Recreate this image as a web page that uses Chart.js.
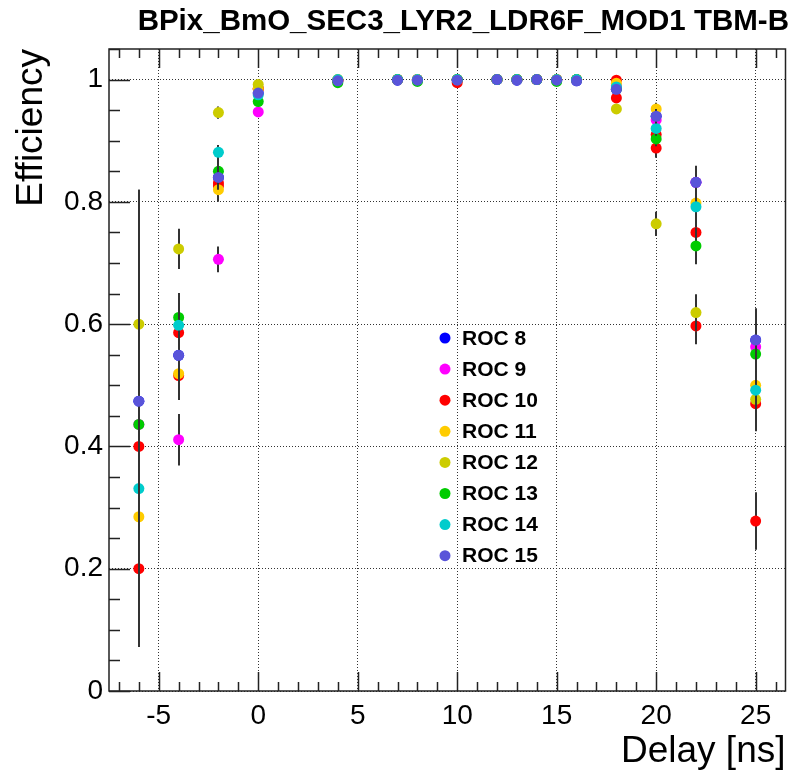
<!DOCTYPE html>
<html>
<head>
<meta charset="utf-8">
<script src="https://cdn.jsdelivr.net/npm/chart.js@4.4.0/dist/chart.umd.min.js"></script>
<style>
  html, body { margin: 0; padding: 0; background: #fff; }
</style>
</head>
<body>
<canvas id="eff" width="791" height="773"></canvas>
<script>
const delays = [-6, -4, -2, 0, 4, 7, 8, 10, 12, 13, 14, 15, 16, 18, 20, 22, 25];

const xTicks = [-5, 0, 5, 10, 15, 20, 25];
const xTickLabels = ['-5', '0', '5', '10', '15', '20', '25'];
const yTicks = [0, 0.2, 0.4, 0.6, 0.8, 1];
const yTickLabels = ['0', '0.2', '0.4', '0.6', '0.8', '1'];

const rocNames = ['ROC 8', 'ROC 9', 'ROC 10', 'ROC 11', 'ROC 12', 'ROC 13', 'ROC 14', 'ROC 15'];
const rocColors = ['#0000ff', '#ff00ff', '#ff0000', '#ffcc00', '#cccc00', '#00cc00', '#00cccc', '#5954d9'];

// efficiency per delay point
const roc8Eff  = [0.474, 0.549, 0.840, 0.978, 0.998, 0.999, 0.999, 0.999, 1.000, 0.999, 1.000, 0.999, 0.998, 0.984, 0.940, 0.832, 0.574];
const roc9Eff  = [0.436, 0.411, 0.706, 0.947, 0.999, 1.000, 1.000, 1.000, 1.000, 1.000, 1.000, 1.000, 1.000, 0.990, 0.934, 0.832, 0.563];
const roc10Eff = [0.400, 0.586, 0.831, 0.985, 0.998, 1.000, 1.000, 0.995, 1.000, 1.000, 1.000, 1.000, 1.000, 0.999, 0.910, 0.750, 0.470];
const roc10bEff= [0.200, 0.516, 0.826, 0.985, 0.998, 1.000, 1.000, 1.000, 1.000, 1.000, 1.000, 1.000, 1.000, 0.970, 0.888, 0.597, 0.278];
const roc11Eff = [0.285, 0.519, 0.820, 0.985, 1.000, 1.000, 1.000, 1.000, 1.000, 1.000, 1.000, 1.000, 1.000, 0.994, 0.952, 0.798, 0.500];
const roc12Eff = [0.600, 0.723, 0.946, 0.992, 1.000, 1.000, 1.000, 1.000, 1.000, 1.000, 1.000, 1.000, 1.000, 0.952, 0.764, 0.619, 0.477];
const roc13Eff = [0.436, 0.611, 0.850, 0.964, 0.995, 1.000, 0.997, 1.000, 1.000, 1.000, 1.000, 0.997, 1.000, 0.985, 0.903, 0.728, 0.551];
const roc14Eff = [0.331, 0.598, 0.881, 0.975, 1.000, 1.000, 1.000, 1.000, 1.000, 1.000, 1.000, 1.000, 1.000, 0.988, 0.920, 0.792, 0.492];
const roc15Eff = [0.474, 0.549, 0.840, 0.978, 0.998, 0.999, 0.999, 0.999, 1.000, 0.999, 1.000, 0.999, 0.998, 0.984, 0.940, 0.832, 0.574];

// error bars (half length)
const roc8Err  = [0.30, 0.040, 0.020, 0.006, 0.002, 0, 0, 0, 0, 0, 0, 0, 0, 0.006, 0.012, 0.025, 0.050];
const roc9Err  = [0.25, 0.042, 0.021, 0.008, 0, 0, 0, 0, 0, 0, 0, 0, 0, 0.005, 0.012, 0.025, 0.050];
const roc10Err = [0.25, 0.040, 0.020, 0.006, 0.002, 0, 0, 0.003, 0, 0, 0, 0, 0, 0.002, 0.012, 0.030, 0.045];
const roc10bErr= [0.128, 0.040, 0.020, 0.006, 0, 0, 0, 0, 0, 0, 0, 0, 0, 0.008, 0.016, 0.030, 0.047];
const roc11Err = [0.20, 0.040, 0.020, 0.005, 0, 0, 0, 0, 0, 0, 0, 0, 0, 0.003, 0.010, 0.025, 0.050];
const roc12Err = [0.22, 0.033, 0.010, 0.004, 0, 0, 0, 0, 0, 0, 0, 0, 0, 0.008, 0.020, 0.030, 0.050];
const roc13Err = [0.25, 0.040, 0.020, 0.007, 0.002, 0, 0, 0, 0, 0, 0, 0, 0, 0.006, 0.012, 0.030, 0.050];
const roc14Err = [0.20, 0.040, 0.012, 0.006, 0, 0, 0, 0, 0, 0, 0, 0, 0, 0.005, 0.012, 0.026, 0.050];
const roc15Err = [0.346, 0.040, 0.020, 0.006, 0.002, 0, 0, 0, 0, 0, 0, 0, 0, 0.006, 0.012, 0.027, 0.052];

const FONT = "'Liberation Sans', Arial, Helvetica, sans-serif";

function makeSet(label, color, eff, err, legend) {
    return {
        label: label,
        data: delays.map((d, i) => ({x: d, y: eff[i]})),
        errors: err,
        inLegend: legend,
        backgroundColor: color,
        borderWidth: 0,
        pointRadius: 5.5,
        pointHoverRadius: 5.5,
        showLine: false
    };
}

// drawing order as in the original: ROC 8 first, ROC 15 on top
const series = [
    makeSet(rocNames[0], rocColors[0], roc8Eff, roc8Err, true),
    makeSet(rocNames[1], rocColors[1], roc9Eff, roc9Err, true),
    makeSet(rocNames[2], rocColors[2], roc10bEff, roc10bErr, false),
    makeSet(rocNames[2], rocColors[2], roc10Eff, roc10Err, true),
    makeSet(rocNames[3], rocColors[3], roc11Eff, roc11Err, true),
    makeSet(rocNames[4], rocColors[4], roc12Eff, roc12Err, true),
    makeSet(rocNames[5], rocColors[5], roc13Eff, roc13Err, true),
    makeSet(rocNames[6], rocColors[6], roc14Eff, roc14Err, true),
    makeSet(rocNames[7], rocColors[7], roc15Eff, roc15Err, true)
];
series.forEach((s, i) => { s.order = series.length - i; });

const errorBars = {
    id: 'errorBars',
    beforeDatasetDraw(chart, args) {
        const ds = chart.data.datasets[args.index];
        const {ctx, chartArea, scales: {x, y}} = chart;
        ctx.save();
        ctx.beginPath();
        ctx.rect(chartArea.left, chartArea.top, chartArea.width, chartArea.height);
        ctx.clip();
        ctx.strokeStyle = '#333';
        ctx.lineWidth = 2;
        ds.data.forEach((p, i) => {
            const e = ds.errors[i];
            if (!e) return;
            const px = Math.round(x.getPixelForValue(p.x));
            ctx.beginPath();
            ctx.moveTo(px, y.getPixelForValue(p.y - e));
            ctx.lineTo(px, y.getPixelForValue(Math.min(p.y + e, 1)));
            ctx.stroke();
        });
        ctx.restore();
    }
};

// frame and inward ticks, root style
const frameTicks = {
    id: 'frameTicks',
    beforeDatasetsDraw(chart) {
        const {ctx, chartArea: a, scales: {x, y}} = chart;
        ctx.save();
        ctx.strokeStyle = '#222';
        ctx.lineWidth = 1.5;
        ctx.strokeRect(a.left, a.top, a.width, a.height);
        ctx.beginPath();
        for (let v = Math.ceil(x.min); v <= x.max; v++) {
            const px = Math.round(x.getPixelForValue(v)) + 0.5;
            const len = (v % 5 === 0) ? 19 : 9;
            ctx.moveTo(px, a.bottom); ctx.lineTo(px, a.bottom - len);
            ctx.moveTo(px, a.top); ctx.lineTo(px, a.top + len);
        }
        for (let k = 0; k * 0.05 <= y.max + 1e-9; k++) {
            const py = Math.round(y.getPixelForValue(k * 0.05)) + 0.5;
            const len = (k % 4 === 0) ? 21 : 11;
            ctx.moveTo(a.left, py); ctx.lineTo(a.left + len, py);
        }
        ctx.stroke();
        ctx.restore();
    }
};

const rocLegend = {
    id: 'rocLegend',
    afterDraw(chart) {
        const ctx = chart.ctx;
        let row = 0;
        ctx.save();
        ctx.font = 'bold 21px ' + FONT;
        ctx.textBaseline = 'middle';
        ctx.textAlign = 'left';
        chart.data.datasets.forEach(ds => {
            if (!ds.inLegend) return;
            const cy = 338 + row * 31.1;
            ctx.fillStyle = ds.backgroundColor;
            ctx.beginPath();
            ctx.arc(445, cy, 5.5, 0, Math.PI * 2);
            ctx.fill();
            ctx.fillStyle = '#000';
            ctx.fillText(ds.label, 462, cy + 1);
            row++;
        });
        ctx.restore();
    }
};

new Chart(document.getElementById('eff'), {
    type: 'scatter',
    data: { datasets: series },
    options: {
        responsive: false,
        devicePixelRatio: 1,
        animation: false,
        layout: { padding: { left: 0, right: 2, top: 0, bottom: 0 } },
        plugins: {
            legend: { display: false },
            tooltip: { enabled: false },
            title: {
                display: true,
                text: 'BPix_BmO_SEC3_LYR2_LDR6F_MOD1 TBM-B',
                align: 'end',
                color: '#000',
                font: { family: FONT, size: 29.5, weight: 'bold', lineHeight: 1 },
                padding: { top: 7, bottom: 12.5 }
            }
        },
        scales: {
            x: {
                type: 'linear',
                min: -7.5,
                max: 26.5,
                afterBuildTicks: s => { s.ticks = xTicks.map(v => ({value: v})); },
                afterFit: s => { s.height = 82; },
                ticks: {
                    color: '#000',
                    padding: 8,
                    font: { family: FONT, size: 28 },
                    callback: (v, i) => xTickLabels[i]
                },
                grid: { color: '#333', lineWidth: 1, drawTicks: false },
                border: { display: false, dash: [1, 2] },
                title: {
                    display: true,
                    text: 'Delay [ns]',
                    align: 'end',
                    color: '#000',
                    font: { family: FONT, size: 37, lineHeight: 1 },
                    padding: { top: 0, bottom: 3 }
                }
            },
            y: {
                type: 'linear',
                min: 0,
                max: 1.05,
                afterBuildTicks: s => { s.ticks = yTicks.map(v => ({value: v})); },
                afterFit: s => { s.width = 109; },
                ticks: {
                    color: '#000',
                    padding: 6,
                    font: { family: FONT, size: 28 },
                    callback: (v, i) => yTickLabels[i]
                },
                grid: { color: '#333', lineWidth: 1, drawTicks: false },
                border: { display: false, dash: [1, 2] },
                title: {
                    display: true,
                    text: 'Efficiency',
                    align: 'end',
                    color: '#000',
                    font: { family: FONT, size: 37, lineHeight: 1 },
                    padding: { top: 13, bottom: 0 }
                }
            }
        }
    },
    plugins: [errorBars, frameTicks, rocLegend]
});
</script>
</body>
</html>
